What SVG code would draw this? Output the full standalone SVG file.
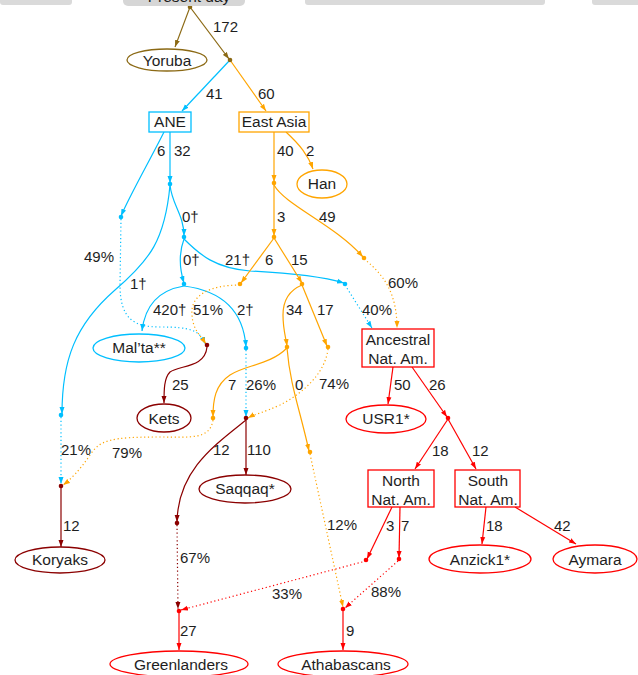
<svg xmlns="http://www.w3.org/2000/svg" width="638" height="675" viewBox="0 0 638 675">
<defs>
<style>
text{font-family:"Liberation Sans",Arial,sans-serif;fill:#1e1e1e}
.n{font-size:15.5px;text-anchor:middle}
.l{font-size:15px}
.e{fill:none;stroke-width:1.2}
.d{stroke-dasharray:1.2 2.6}
.B{stroke:#8B6914}.C{stroke:#00BFFF}.O{stroke:#FFA500}.DR{stroke:#8B0000}.R{stroke:#FF0000}
.bx{fill:#fff;stroke-width:1.3}
</style>
<marker id="aB" markerUnits="userSpaceOnUse" markerWidth="7" markerHeight="6" refX="7" refY="3" orient="auto"><path d="M0,0.5 L7,3 L0,5.5z" fill="#8B6914"/></marker>
<marker id="aC" markerUnits="userSpaceOnUse" markerWidth="7" markerHeight="6" refX="7" refY="3" orient="auto"><path d="M0,0.5 L7,3 L0,5.5z" fill="#00BFFF"/></marker>
<marker id="aO" markerUnits="userSpaceOnUse" markerWidth="7" markerHeight="6" refX="7" refY="3" orient="auto"><path d="M0,0.5 L7,3 L0,5.5z" fill="#FFA500"/></marker>
<marker id="aDR" markerUnits="userSpaceOnUse" markerWidth="7" markerHeight="6" refX="7" refY="3" orient="auto"><path d="M0,0.5 L7,3 L0,5.5z" fill="#8B0000"/></marker>
<marker id="aR" markerUnits="userSpaceOnUse" markerWidth="7" markerHeight="6" refX="7" refY="3" orient="auto"><path d="M0,0.5 L7,3 L0,5.5z" fill="#FF0000"/></marker>
</defs>
<rect width="638" height="675" fill="#fff"/>
<g id="header">
<rect x="0" y="-10" width="72" height="15" rx="3" fill="#dadada"/>
<rect x="305" y="-10" width="240" height="15" rx="3" fill="#dadada"/>
<rect x="592" y="-10" width="50" height="15" rx="3" fill="#dadada"/>
</g>
<g id="connectors">
<path class="e B" d="M190,7 L175,47" marker-end="url(#aB)"/>
<path class="e B" d="M190,7 L229,59" marker-end="url(#aB)"/>
<path class="e C" d="M230,60 L182,111" marker-end="url(#aC)"/>
<path class="e O" d="M230,60 L266,111" marker-end="url(#aO)"/>
<path class="e C" d="M164,132 C150,160 130,195 121,216" marker-end="url(#aC)"/>
<path class="e C" d="M170,132 L170,183" marker-end="url(#aC)"/>
<path class="e C" d="M170,185 C165,240 150,260 115,290 C75,325 62,360 62,414" marker-end="url(#aC)"/>
<path class="e C" d="M170,185 C172,205 184,215 184,236" marker-end="url(#aC)"/>
<path class="e C" d="M184,239 C178,255 180,270 184,283" marker-end="url(#aC)"/>
<path class="e C" d="M184,239 C200,255 215,268 250,271 C290,273 320,276 344,283" marker-end="url(#aC)"/>
<path class="e C" d="M184,286 C160,290 145,305 142,331" marker-end="url(#aC)"/>
<path class="e C" d="M184,286 C215,290 243,305 246,347" marker-end="url(#aC)"/>
<path class="e C d" d="M121,219 L120,285 C120,320 135,327 160,327 C190,327 200,330 205,344" marker-end="url(#aC)"/>
<path class="e O d" d="M240,285 C210,285 190,295 192,315 C193,330 200,335 206,344" marker-end="url(#aO)"/>
<path class="e DR" d="M207,347 C205,368 180,365 170,372 C164,378 164,390 164,403" marker-end="url(#aDR)"/>
<path class="e O" d="M274,132 L274,182" marker-end="url(#aO)"/>
<path class="e O" d="M286,132 C300,145 308,155 313,169" marker-end="url(#aO)"/>
<path class="e O" d="M274,185 L274,236" marker-end="url(#aO)"/>
<path class="e O" d="M274,185 C285,205 335,225 363,257" marker-end="url(#aO)"/>
<path class="e O d" d="M364,259 C385,275 397,295 397,328" marker-end="url(#aO)"/>
<path class="e C d" d="M345,285 L372,328" marker-end="url(#aC)"/>
<path class="e O" d="M274,238 L241,283" marker-end="url(#aO)"/>
<path class="e O" d="M274,238 L302,283" marker-end="url(#aO)"/>
<path class="e O" d="M302,285 C290,290 283,300 283,315 C283,330 286,338 287,346" marker-end="url(#aO)"/>
<path class="e O" d="M302,285 L327,346" marker-end="url(#aO)"/>
<path class="e O" d="M287,348 C270,365 245,365 230,375 C215,385 213,400 213,417" marker-end="url(#aO)"/>
<path class="e O" d="M287,348 C290,385 300,410 309,451" marker-end="url(#aO)"/>
<path class="e O d" d="M310,454 L343,607" marker-end="url(#aO)"/>
<path class="e O d" d="M328,349 C325,375 300,395 280,405 C265,412 255,414 248,418" marker-end="url(#aO)"/>
<path class="e C d" d="M246,350 L246,417" marker-end="url(#aC)"/>
<path class="e O d" d="M213,420 C210,440 190,437 160,437 C110,437 100,440 90,455 C80,470 70,480 63,485" marker-end="url(#aO)"/>
<path class="e C d" d="M61,417 L61,484" marker-end="url(#aC)"/>
<path class="e DR" d="M61,487 L61,547" marker-end="url(#aDR)"/>
<path class="e DR" d="M246,420 L246,475" marker-end="url(#aDR)"/>
<path class="e DR" d="M246,420 C215,445 178,470 177,522" marker-end="url(#aDR)"/>
<path class="e DR d" d="M177,525 L178,609" marker-end="url(#aDR)"/>
<path class="e R" d="M393,367 L388,404" marker-end="url(#aR)"/>
<path class="e R" d="M412,367 L447,417" marker-end="url(#aR)"/>
<path class="e R" d="M448,419 L415,469" marker-end="url(#aR)"/>
<path class="e R" d="M448,419 L476,469" marker-end="url(#aR)"/>
<path class="e R" d="M392,507 L367,559" marker-end="url(#aR)"/>
<path class="e R" d="M400,507 L399,558" marker-end="url(#aR)"/>
<path class="e R" d="M486,507 L482,544" marker-end="url(#aR)"/>
<path class="e R" d="M515,507 L576,544" marker-end="url(#aR)"/>
<path class="e R d" d="M366,561 L181,610" marker-end="url(#aR)"/>
<path class="e R d" d="M398,561 L345,608" marker-end="url(#aR)"/>
<path class="e R" d="M179,612 L179,650" marker-end="url(#aR)"/>
<path class="e R" d="M343,611 L343,650" marker-end="url(#aR)"/>
</g>
<g id="junctions">
<circle cx="190" cy="7" r="2.3" fill="#8B6914"/>
<circle cx="230" cy="60" r="2.3" fill="#8B6914"/>
<circle cx="121" cy="217" r="2.3" fill="#00BFFF"/>
<circle cx="170" cy="184" r="2.3" fill="#00BFFF"/>
<circle cx="184" cy="237" r="2.3" fill="#00BFFF"/>
<circle cx="184" cy="284" r="2.3" fill="#00BFFF"/>
<circle cx="345" cy="284" r="2.3" fill="#00BFFF"/>
<circle cx="246" cy="348" r="2.3" fill="#00BFFF"/>
<circle cx="61" cy="415" r="2.3" fill="#00BFFF"/>
<circle cx="274" cy="183" r="2.3" fill="#FFA500"/>
<circle cx="274" cy="237" r="2.3" fill="#FFA500"/>
<circle cx="364" cy="258" r="2.3" fill="#FFA500"/>
<circle cx="240" cy="284" r="2.3" fill="#FFA500"/>
<circle cx="302" cy="284" r="2.3" fill="#FFA500"/>
<circle cx="287" cy="347" r="2.3" fill="#FFA500"/>
<circle cx="328" cy="347" r="2.3" fill="#FFA500"/>
<circle cx="213" cy="418" r="2.3" fill="#FFA500"/>
<circle cx="310" cy="452" r="2.3" fill="#FFA500"/>
<circle cx="207" cy="345" r="2.3" fill="#8B0000"/>
<circle cx="246" cy="418" r="2.3" fill="#8B0000"/>
<circle cx="61" cy="486" r="2.3" fill="#8B0000"/>
<circle cx="177" cy="523" r="2.3" fill="#8B0000"/>
<circle cx="448" cy="418" r="2.3" fill="#FF0000"/>
<circle cx="366" cy="560" r="2.3" fill="#FF0000"/>
<circle cx="399" cy="559" r="2.3" fill="#FF0000"/>
<circle cx="179" cy="611" r="2.3" fill="#FF0000"/>
<circle cx="343" cy="609" r="2.3" fill="#FF0000"/>
</g>
<g id="edge-labels" class="l">
<text class="l" x="213" y="32">172</text>
<text class="l" x="206" y="99">41</text>
<text class="l" x="258" y="99">60</text>
<text class="l" x="157" y="156">6</text>
<text class="l" x="174" y="156">32</text>
<text class="l" x="277" y="156">40</text>
<text class="l" x="306" y="156">2</text>
<text class="l" x="182" y="222">0†</text>
<text class="l" x="277" y="222">3</text>
<text class="l" x="319" y="222">49</text>
<text class="l" x="84" y="262">49%</text>
<text class="l" x="183" y="265">0†</text>
<text class="l" x="225" y="265">21†</text>
<text class="l" x="265" y="265">6</text>
<text class="l" x="291" y="265">15</text>
<text class="l" x="388" y="288">60%</text>
<text class="l" x="130" y="289">1†</text>
<text class="l" x="153" y="315">420†</text>
<text class="l" x="193" y="315">51%</text>
<text class="l" x="237" y="315">2†</text>
<text class="l" x="286" y="315">34</text>
<text class="l" x="317" y="315">17</text>
<text class="l" x="362" y="315">40%</text>
<text class="l" x="172" y="390">25</text>
<text class="l" x="228" y="390">7</text>
<text class="l" x="246" y="390">26%</text>
<text class="l" x="295" y="390">0</text>
<text class="l" x="319" y="389">74%</text>
<text class="l" x="394" y="390">50</text>
<text class="l" x="429" y="390">26</text>
<text class="l" x="61" y="455">21%</text>
<text class="l" x="112" y="458">79%</text>
<text class="l" x="213" y="455">12</text>
<text class="l" x="247" y="455">110</text>
<text class="l" x="432" y="456">18</text>
<text class="l" x="472" y="456">12</text>
<text class="l" x="63" y="531">12</text>
<text class="l" x="327" y="530">12%</text>
<text class="l" x="386" y="531">3</text>
<text class="l" x="401" y="531">7</text>
<text class="l" x="486" y="531">18</text>
<text class="l" x="554" y="531">42</text>
<text class="l" x="180" y="563">67%</text>
<text class="l" x="272" y="599">33%</text>
<text class="l" x="371" y="597">88%</text>
<text class="l" x="180" y="636">27</text>
<text class="l" x="346" y="636">9</text>
</g>
<g id="present-day"><rect x="123" y="-20" width="122" height="26" rx="5" fill="#d6d6d6"/><text class="n" x="189" y="2">Present day</text></g>
<g id="yoruba"><ellipse class="bx" cx="167" cy="60" rx="40" ry="11" stroke="#8B6914"/><text class="n" x="167" y="66">Yoruba</text></g>
<g id="ane"><rect class="bx" x="149" y="112" width="42" height="20" stroke="#00BFFF"/><text class="n" x="170" y="127">ANE</text></g>
<g id="east-asia"><rect class="bx" x="239" y="112" width="70" height="20" stroke="#FFA500"/><text class="n" x="274" y="127">East Asia</text></g>
<g id="han"><ellipse class="bx" cx="322" cy="184" rx="25" ry="14" stroke="#FFA500"/><text class="n" x="322" y="189">Han</text></g>
<g id="malta"><ellipse class="bx" cx="139" cy="348" rx="46" ry="14" stroke="#00BFFF"/><text class="n" x="139" y="353">Mal’ta**</text></g>
<g id="ancestral"><rect class="bx" x="362" y="329" width="72" height="38" stroke="#FF0000"/><text class="n" x="398" y="345">Ancestral</text><text class="n" x="398" y="364">Nat. Am.</text></g>
<g id="kets"><ellipse class="bx" cx="164" cy="418" rx="27" ry="14" stroke="#8B0000"/><text class="n" x="164" y="424">Kets</text></g>
<g id="usr1"><ellipse class="bx" cx="386" cy="419" rx="40" ry="14" stroke="#FF0000"/><text class="n" x="386" y="424">USR1*</text></g>
<g id="north"><rect class="bx" x="368" y="470" width="66" height="37" stroke="#FF0000"/><text class="n" x="401" y="486">North</text><text class="n" x="401" y="505">Nat. Am.</text></g>
<g id="south"><rect class="bx" x="455" y="470" width="65" height="37" stroke="#FF0000"/><text class="n" x="488" y="486">South</text><text class="n" x="488" y="505">Nat. Am.</text></g>
<g id="saqqaq"><ellipse class="bx" cx="245" cy="489" rx="46" ry="14" stroke="#8B0000"/><text class="n" x="245" y="494">Saqqaq*</text></g>
<g id="koryaks"><ellipse class="bx" cx="60" cy="560" rx="45" ry="13" stroke="#8B0000"/><text class="n" x="60" y="565">Koryaks</text></g>
<g id="anzick1"><ellipse class="bx" cx="480" cy="559" rx="51" ry="14" stroke="#FF0000"/><text class="n" x="480" y="565">Anzick1*</text></g>
<g id="aymara"><ellipse class="bx" cx="595" cy="559" rx="42" ry="14" stroke="#FF0000"/><text class="n" x="595" y="565">Aymara</text></g>
<g id="greenlanders"><ellipse class="bx" cx="179" cy="664" rx="69" ry="13" stroke="#FF0000"/><text class="n" x="181" y="670">Greenlanders</text></g>
<g id="athabascans"><ellipse class="bx" cx="343" cy="664" rx="65" ry="13" stroke="#FF0000"/><text class="n" x="346" y="670">Athabascans</text></g>
</svg>
